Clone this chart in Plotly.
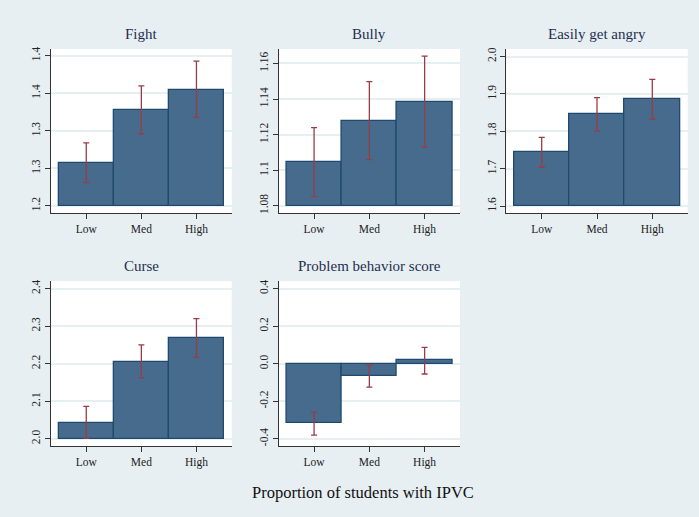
import plotly.graph_objects as go

categories = ["Low", "Med", "High"]

titles = ["Fight", "Bully", "Easily get angry", "Curse", "Problem behavior score"]

fight_mean = [1.257, 1.328, 1.355]
fight_lo = [1.231, 1.296, 1.318]
fight_hi = [1.284, 1.360, 1.393]

bully_mean = [1.1044, 1.1278, 1.1383]
bully_lo = [1.0852, 1.1059, 1.1130]
bully_hi = [1.1239, 1.1498, 1.1641]

angry_mean = [1.744, 1.845, 1.886]
angry_lo = [1.704, 1.801, 1.833]
angry_hi = [1.784, 1.890, 1.939]

curse_mean = [2.043, 2.205, 2.268]
curse_lo = [2.001, 2.162, 2.217]
curse_hi = [2.086, 2.250, 2.320]

pb_mean = [-0.318, -0.067, 0.020]
pb_lo = [-0.381, -0.125, -0.055]
pb_hi = [-0.258, -0.009, 0.087]

fight_ticks = [1.2, 1.25, 1.3, 1.35, 1.4]
fight_ticktext = ["1.2", "1.3", "1.3", "1.4", "1.4"]
bully_ticks = [1.08, 1.10, 1.12, 1.14, 1.16]
bully_ticktext = ["1.08", "1.1", "1.12", "1.14", "1.16"]
angry_ticks = [1.6, 1.7, 1.8, 1.9, 2.0]
angry_ticktext = ["1.6", "1.7", "1.8", "1.9", "2.0"]
curse_ticks = [2.0, 2.1, 2.2, 2.3, 2.4]
curse_ticktext = ["2.0", "2.1", "2.2", "2.3", "2.4"]
pb_ticks = [-0.4, -0.2, 0.0, 0.2, 0.4]
pb_ticktext = ["-0.4", "-0.2", "0.0", "0.2", "0.4"]

bases = [1.2, 1.08, 1.6, 2.0, 0.0]
yranges = [[1.1903, 1.409], [1.0759, 1.1681], [1.5815, 2.020], [1.9796, 2.42], [-0.4408, 0.440]]

panels = [
    (fight_mean, fight_lo, fight_hi, fight_ticks, fight_ticktext),
    (bully_mean, bully_lo, bully_hi, bully_ticks, bully_ticktext),
    (angry_mean, angry_lo, angry_hi, angry_ticks, angry_ticktext),
    (curse_mean, curse_lo, curse_hi, curse_ticks, curse_ticktext),
    (pb_mean, pb_lo, pb_hi, pb_ticks, pb_ticktext),
]

W, H = 699, 517
xdoms_px = [(51, 231.7), (278.7, 460), (506.3, 687.7), (51, 231.7), (278.7, 460)]
ydoms_px = [(47.3, 212.3), (47.3, 212.3), (47.3, 212.3), (280.7, 447), (280.7, 447)]

FONT = "Liberation Serif"
BG = "#e8eff2"
BAR = "#476b8c"
BAR_LINE = "#1f4a70"
ERR = "#9b3b45"
AX = "#333333"

fig = go.Figure()
layout = {}
annotations = []
xpos = [1, 2, 3]
for i, (mean, lo, hi, tv, tt) in enumerate(panels):
    n = i + 1
    xa = "x" if n == 1 else f"x{n}"
    ya = "y" if n == 1 else f"y{n}"
    base = bases[i]
    fig.add_trace(go.Bar(
        x=xpos, y=[m - base for m in mean], base=base, width=1,
        marker=dict(color=BAR, line=dict(color=BAR_LINE, width=1.3)),
        error_y=dict(type="data", symmetric=False,
                     array=[h - m for h, m in zip(hi, mean)],
                     arrayminus=[m - l for m, l in zip(mean, lo)],
                     color=ERR, thickness=1.3, width=3),
        xaxis=xa, yaxis=ya, showlegend=False, hoverinfo="skip"))
    x0, x1 = xdoms_px[i]
    y0, y1 = ydoms_px[i]
    layout["xaxis" if n == 1 else f"xaxis{n}"] = dict(
        domain=[x0 / W, x1 / W], anchor=ya, range=[0.36, 3.64],
        tickvals=xpos, ticktext=categories, showgrid=False, zeroline=False,
        showline=True, linecolor=AX, linewidth=1, ticks="outside", ticklen=5,
        tickcolor=AX, tickfont=dict(family=FONT, size=11.5, color="#222222"))
    layout["yaxis" if n == 1 else f"yaxis{n}"] = dict(
        domain=[1 - y1 / H, 1 - y0 / H], anchor=xa, range=yranges[i],
        tickvals=tv, ticktext=tt, showgrid=True, gridcolor="#e6eff1", gridwidth=1.5,
        zeroline=False, showline=True, linecolor=AX, linewidth=1,
        ticks="outside", ticklen=5, tickcolor=AX, tickangle=-90,
        tickfont=dict(family=FONT, size=11.5, color="#222222"))
    annotations.append(dict(
        text=titles[i], x=(x0 + x1) / 2 / W, y=1 - (y0 - 5) / H,
        xref="paper", yref="paper", xanchor="center", yanchor="bottom",
        showarrow=False, font=dict(family=FONT, size=15, color="#1e2f4f")))

annotations.append(dict(
    text="Proportion of students with IPVC", x=363 / W, y=1 - 493 / H,
    xref="paper", yref="paper", xanchor="center", yanchor="middle",
    showarrow=False, font=dict(family=FONT, size=16.5, color="#111111")))

fig.update_layout(
    width=W, height=H, autosize=False,
    margin=dict(l=0, r=0, t=0, b=0),
    paper_bgcolor=BG, plot_bgcolor="white",
    annotations=annotations, bargap=0,
    **layout)

fig.write_html("out.html")
